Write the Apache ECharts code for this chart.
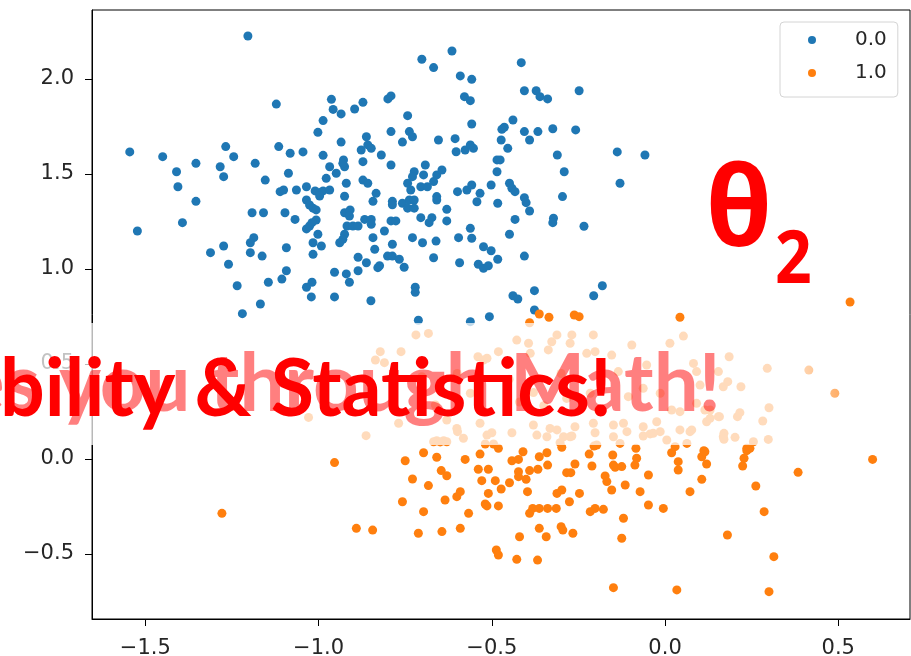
<!DOCTYPE html>
<html>
<head>
<meta charset="utf-8">
<script src="https://cdn.jsdelivr.net/npm/echarts@6/dist/echarts.min.js"></script>
<style>
  html, body { margin: 0; padding: 0; background: #fff; }
  #chart { width: 911px; height: 656px; }
</style>
</head>
<body>
<div id="chart"></div>
<script>
// Class labels shown in the legend
const classNames = ['0.0', '1.0'];

// Tick positions on each axis
const xTickValues = [-1.5, -1.0, -0.5, 0.0, 0.5];
const yTickValues = [-0.5, 0.0, 0.5, 1.0, 1.5, 2.0];

// Class 0.0 samples [x, y]
const class0Points = [
  [-1.204,2.226],[-1.545,1.616],[-1.523,1.2],[-1.45,1.591],[-1.41,1.512],[-1.406,1.433],[-1.393,1.244],[-1.354,1.556],
  [-1.354,1.356],[-1.312,1.086],[-1.284,1.538],[-1.274,1.486],[-1.268,1.644],[-1.245,1.591],[-1.274,1.121],[-1.26,1.025],
  [-1.235,0.912],[-1.22,0.765],[-1.183,1.556],[-1.192,1.296],[-1.159,1.296],[-1.187,1.165],[-1.197,1.138],[-1.197,1.086],
  [-1.163,1.068],[-1.168,0.816],[-1.154,1.468],[-1.145,0.93],[-1.122,1.868],[-1.115,1.644],[-1.111,1.407],[-1.101,1.416],
  [-1.097,1.296],[-1.087,1.504],[-1.082,1.609],[-1.064,1.416],[-1.068,1.261],[-1.093,1.112],[-1.093,0.991],[-1.106,0.947],
  [-1.045,1.616],[-1.035,1.433],[-1.035,1.363],[-1.026,1.337],[-1.016,1.32],[-1.007,1.311],[-1.007,1.258],[-1.01,1.411],
  [-0.995,1.402],[-0.987,1.411],[-0.997,1.384],[-1.035,1.211],[-1.026,1.226],[-1.019,1.244],[-1.002,1.183],[-1.016,1.138],
  [-0.992,1.121],[-1.016,1.077],[-1.035,0.904],[-1.019,0.93],[-1.021,0.853],[-1.002,1.719],[-0.987,1.781],[-0.987,1.598],
  [-0.963,1.893],[-0.958,1.84],[-0.935,1.816],[-0.935,1.668],[-0.968,1.538],[-0.949,1.504],[-0.978,1.477],[-0.968,1.416],
  [-0.928,1.574],[-0.925,1.538],[-0.93,1.556],[-0.92,1.451],[-0.925,1.383],[-0.925,1.296],[-0.909,1.311],[-0.911,1.279],
  [-0.918,1.226],[-0.901,1.226],[-0.886,1.226],[-0.925,1.183],[-0.93,1.156],[-0.939,1.138],[-0.886,1.062],[-0.954,0.983],
  [-0.954,0.853],[-0.92,0.974],[-0.911,0.93],[-0.886,0.991],[-0.872,1.877],[-0.896,1.842],[-0.877,1.626],[-0.872,1.565],
  [-0.862,1.696],[-0.858,1.653],[-0.848,1.635],[-0.872,1.468],[-0.858,1.451],[-0.834,1.398],[-0.843,1.356],[-0.867,1.261],
  [-0.848,1.261],[-0.848,1.235],[-0.843,1.165],[-0.838,1.104],[-0.862,1.033],[-0.829,1.007],[-0.824,1.017],[-0.849,0.833],
  [-0.819,1.6],[-0.81,1.2],[-0.8,1.895],[-0.791,1.911],[-0.791,1.723],[-0.791,1.547],[-0.787,1.356],[-0.787,1.338],
  [-0.791,1.253],[-0.777,1.253],[-0.787,1.13],[-0.801,1.068],[-0.787,1.068],[-0.767,1.051],[-0.753,1.009],[-0.758,1.346],
  [-0.743,1.807],[-0.738,1.723],[-0.729,1.696],[-0.758,1.668],[-0.743,1.451],[-0.724,1.512],[-0.729,1.486],[-0.734,1.416],
  [-0.738,1.363],[-0.724,1.363],[-0.743,1.32],[-0.724,1.32],[-0.692,1.547],[-0.697,1.495],[-0.705,1.433],[-0.686,1.433],
  [-0.668,1.46],[-0.659,1.495],[-0.644,1.521],[-0.705,1.27],[-0.673,1.27],[-0.681,1.244],[-0.729,1.165],[-0.7,1.138],
  [-0.668,1.059],[-0.661,1.147],[-0.659,1.381],[-0.659,1.363],[-0.63,1.314],[-0.63,1.253],[-0.721,0.904],[-0.721,0.877],
  [-0.712,0.73],[-0.702,2.104],[-0.668,2.06],[-0.615,2.147],[-0.654,1.679],[-0.606,1.686],[-0.603,1.617],[-0.599,1.407],
  [-0.596,1.165],[-0.593,1.033],[-0.591,2.016],
  [-0.415,2.086],[-0.558,1.998],[-0.579,1.907],[-0.562,1.886],[-0.558,1.763],[-0.406,1.938],[-0.372,1.938],[-0.361,1.907],
  [-0.339,1.895],[-0.248,1.938],[-0.439,1.784],[-0.464,1.746],[-0.471,1.735],[-0.406,1.723],[-0.391,1.679],[-0.367,1.723],
  [-0.324,1.738],[-0.258,1.732],[-0.473,1.679],[-0.454,1.635],[-0.577,1.626],[-0.562,1.653],[-0.553,1.635],[-0.485,1.574],
  [-0.476,1.574],[-0.485,1.512],[-0.311,1.6],[-0.291,1.512],[-0.138,1.616],[-0.058,1.6],[-0.13,1.451],[-0.572,1.416],
  [-0.558,1.442],[-0.534,1.398],[-0.543,1.354],[-0.502,1.442],[-0.483,1.346],[-0.449,1.451],[-0.442,1.425],[-0.433,1.407],
  [-0.406,1.375],[-0.401,1.349],[-0.391,1.305],[-0.296,1.381],[-0.433,1.261],[-0.322,1.267],[-0.324,1.244],[-0.234,1.225],
  [-0.562,1.214],[-0.558,1.162],[-0.449,1.183],[-0.524,1.117],[-0.502,1.096],[-0.483,1.051],[-0.539,1.025],[-0.524,1.004],
  [-0.51,1.017],[-0.406,1.068],[-0.439,0.859],[-0.425,0.842],[-0.377,0.886],[-0.377,0.784],[-0.507,0.749],[-0.206,0.859],
  [-0.181,0.912],[-0.562,0.723]
];

// Class 1.0 samples [x, y]
const class1Points = [
  [-0.363,0.763],[-0.335,0.746],[-0.262,0.758],[-0.248,0.749],[0.043,0.746],[-0.391,0.717],[0.534,0.826],
  [-0.719,0.653],[-0.683,0.661],[-0.822,0.565],[-0.762,0.565],[-0.836,0.521],[-0.81,0.507],[-0.54,0.538],[-0.514,0.53],
  [-1.029,0.219],[-0.863,0.123],[-0.63,0.205],[-0.601,0.161],[-0.582,0.109],[-0.659,0.096],[-0.639,0.096],[-0.534,0.188],
  [-0.514,0.126],[-0.562,0.346],[-0.769,0.188],[-0.663,0.284],[-0.702,0.433],[-0.668,0.091],[-0.649,0.09],[-0.63,0.091],
  [-0.599,0.144],[-0.519,0.079],[-0.495,0.079],[-0.5,0.138],[-0.442,0.138],[-0.37,0.126],[-0.341,0.117],[-0.303,0.086],
  [-0.269,0.121],[-0.202,0.138],[-0.197,0.074],[-0.149,0.117],[-0.13,0.082],[-0.11,0.144],[-0.063,0.121],[-0.043,0.132],
  [-0.014,0.144],[0.063,0.082],[0.072,0.144],[0.168,0.117],[0.202,0.114],[0.255,0.091],[0.298,0.103],
  [-0.428,0.626],[-0.394,0.609],[-0.312,0.653],[-0.327,0.617],[-0.269,0.653],[-0.274,0.609],[-0.207,0.653],[-0.096,0.6],
  [0.014,0.609],[0.053,0.647],[-0.481,0.565],[-0.389,0.556],[-0.337,0.574],[-0.226,0.556],[-0.202,0.565],[-0.154,0.547],
  [-0.524,0.521],[0.082,0.503],[0.091,0.46],[-0.053,0.495],[-0.135,0.46],[0.154,0.46],[0.168,0.38],[-0.063,0.372],
  [-0.106,0.328],[-0.014,0.346],[0.101,0.389],[0.13,0.258],[0.154,0.223],[-0.534,0.258],[-0.38,0.179],[-0.332,0.161],
  [-0.312,0.153],[-0.26,0.17],[-0.207,0.188],[-0.149,0.179],[-0.12,0.188],[-0.063,0.17],[-0.024,0.196],[-0.034,0.135],
  [0.043,0.153],[0.077,0.153],[0.12,0.196],[-0.293,0.117],[-0.274,0.117],[0.005,0.1],[-0.284,0.319],[-0.216,0.346],
  [-0.192,0.258],[0.019,0.258],[0.043,0.249],[0.091,0.293],
  [0.185,0.538],[0.295,0.477],[0.415,0.468],[0.49,0.346],[0.181,0.407],[0.219,0.38],[0.3,0.27],[0.216,0.244],
  [0.209,0.223],[0.282,0.2],[0.13,0.214],[0.157,0.223],[0.115,0.258],[0.17,0.135],[0.17,0.104],
  [-0.45,0.42],[-0.38,0.35],[-0.3,0.45],[-0.42,0.3],[-0.6,0.45],[-0.35,0.28],
  [0.236,0.056],[0.112,0.044],
  [-1.279,-0.286],[-0.954,-0.019],[-0.891,-0.365],[-0.844,-0.374],[-0.758,-0.225],[-0.75,-0.009],[-0.729,-0.105],[-0.697,0.033],
  [-0.683,-0.14],[-0.697,-0.277],[-0.712,-0.391],[-0.659,0.009],[-0.646,-0.061],[-0.63,-0.088],[-0.635,-0.216],[-0.644,-0.382],
  [-0.601,-0.198],[-0.591,-0.365],[-0.591,-0.172],[-0.577,-0.002],[-0.567,-0.286],[-0.534,0.026],[-0.539,-0.054],[-0.51,-0.054],
  [-0.529,-0.114],[-0.49,-0.114],[-0.473,-0.158],[-0.51,-0.181],[-0.519,-0.237],[-0.514,-0.247],[-0.481,-0.247],[-0.487,-0.479],
  [-0.481,-0.505],[-0.428,-0.528],[-0.42,-0.409],[-0.481,0.056],[-0.442,-0.009],[-0.423,-0.002],[-0.41,0.038],[-0.423,-0.067],
  [-0.423,-0.093],[-0.449,-0.125],[-0.401,-0.107],[-0.391,-0.061],[-0.367,-0.054],[-0.397,-0.172],[-0.363,0.012],[-0.341,0.033],
  [-0.339,-0.032],[-0.391,-0.286],[-0.382,-0.26],[-0.363,-0.26],[-0.339,-0.26],[-0.314,-0.26],[-0.363,-0.365],[-0.343,-0.409],
  [-0.368,-0.532],[-0.3,-0.356],[-0.295,-0.374],[-0.266,-0.391],[-0.312,-0.181],[-0.298,-0.163],[-0.276,-0.225],[-0.247,-0.181],
  [-0.284,-0.072],[-0.272,-0.072],[-0.26,-0.026],[-0.298,0.062],[-0.219,0.026],[-0.211,-0.037],[-0.205,0.068],[-0.216,-0.277],
  [-0.202,-0.26],[-0.178,-0.265],[-0.173,-0.089],[-0.168,-0.119],[-0.154,-0.163],[-0.151,0.021],[-0.149,-0.032],[-0.144,-0.044],
  [-0.125,-0.04],[-0.12,-0.312],[-0.125,-0.417],[-0.149,-0.677],[-0.115,-0.137],[-0.087,-0.032],[-0.082,0.004],[-0.084,0.056],
  [-0.072,-0.172],[-0.048,-0.084],[-0.048,-0.242],[-0.005,-0.26],[0.019,0.033],[0.029,0.065],[0.038,-0.014],[0.038,-0.058],
  [0.072,-0.172],[0.034,-0.689],[0.106,0.012],[0.115,0.038],[0.12,-0.026],[0.106,-0.107],[0.224,-0.037],[0.228,0.004],
  [0.236,0.044],[0.245,0.056],[0.262,-0.142],[0.286,-0.277],[0.18,-0.4],[0.314,-0.514],[0.3,-0.698],[0.384,-0.07],
  [0.599,-0.002]
];

// Title overlay strings
const headlineText = 'Probability & Statistics!';
const headlineVisible = 'bility & Statistics!';
const fadingText = 'Guides you through Math!';
const fadingVisible = 'you through Math!';
const symbolText = 'θ';
const subscriptText = '2';

// Horizontal squeeze so the bold overlay text keeps its condensed look
function fitScale(font, str, targetWidth) {
  const ctx = document.createElement('canvas').getContext('2d');
  ctx.font = font;
  return targetWidth / ctx.measureText(str).width;
}

const headFont = 'bold 81px Lato';
const headScale = fitScale(headFont, headlineVisible, 612);
const fadeScale = fitScale(headFont, fadingVisible, 662);

const fmt = v => (v < 0 ? '\u2212' : '') + Math.abs(v).toFixed(1);
const axisFont = { fontFamily: 'DejaVu Sans', fontSize: 21, color: '#262626' };

const chart = echarts.init(document.getElementById('chart'), null, { renderer: 'canvas' });
chart.setOption({
  animation: false,
  backgroundColor: '#fff',
  grid: {
    left: 92, right: 1, top: 10, bottom: 37,
    containLabel: false, outerBoundsMode: 'none',
    show: true, borderColor: '#000', borderWidth: 1, backgroundColor: 'transparent'
  },
  xAxis: {
    type: 'value', min: -1.654, max: 0.707,
    axisLine: { show: true, onZero: false, lineStyle: { color: '#000', width: 1 } },
    axisTick: { show: true, length: 7, customValues: xTickValues, lineStyle: { color: '#000' } },
    axisLabel: Object.assign({ customValues: xTickValues, formatter: fmt, margin: 19 }, axisFont),
    splitLine: { show: false }
  },
  yAxis: {
    type: 'value', min: -0.842, max: 2.363,
    axisLine: { show: true, onZero: false, lineStyle: { color: '#000', width: 1 } },
    axisTick: { show: true, length: 7, customValues: yTickValues, lineStyle: { color: '#000' } },
    axisLabel: Object.assign({ customValues: yTickValues, formatter: fmt, margin: 18 }, axisFont),
    splitLine: { show: false }
  },
  legend: {
    data: classNames,
    orient: 'vertical',
    left: 780, top: 22,
    icon: 'circle', itemWidth: 8, itemHeight: 8, itemGap: 13,
    padding: [8, 11, 14, 28],
    backgroundColor: 'rgba(255,255,255,0.8)',
    borderColor: '#d4d4d4', borderWidth: 1, borderRadius: 4,
    textStyle: { fontFamily: 'DejaVu Sans', fontSize: 20, lineHeight: 20, color: '#262626', padding: [0, 0, 0, 34] },
    selectedMode: false
  },
  series: [
    { name: classNames[0], type: 'scatter', data: class0Points, symbolSize: 9, itemStyle: { color: '#1f77b4', opacity: 1 }, z: 2 },
    { name: classNames[1], type: 'scatter', data: class1Points, symbolSize: 9, itemStyle: { color: '#ff7f0e', opacity: 1 }, z: 3 }
  ],
  graphic: [
    {
      type: 'rect', z: 100,
      shape: { x: 0, y: 323, width: 911, height: 122 },
      style: {
        fill: {
          type: 'linear', x: 0, y: 0, x2: 1, y2: 0,
          colorStops: [
            { offset: 0, color: 'rgba(255,255,255,0.72)' },
            { offset: 0.875, color: 'rgba(255,255,255,0.72)' },
            { offset: 0.97, color: 'rgba(255,255,255,0)' },
            { offset: 1, color: 'rgba(255,255,255,0)' }
          ]
        }
      }
    },
    {
      type: 'text', z: 101, x: 721, y: 385, scaleX: fadeScale,
      style: { text: fadingText, font: headFont, fill: 'rgba(255,0,0,0.5)', textAlign: 'right', textVerticalAlign: 'middle' }
    },
    {
      type: 'text', z: 102, x: 612, y: 390, scaleX: headScale,
      style: { text: headlineText, font: headFont, fill: '#ff0000', textAlign: 'right', textVerticalAlign: 'middle' }
    },
    {
      type: 'text', z: 102, x: 706, y: 214, scaleX: 0.95,
      style: { text: symbolText, font: 'bold 112px "Open Sans"', fill: '#ff0000', textAlign: 'left', textVerticalAlign: 'middle' }
    },
    {
      type: 'text', z: 102, x: 775, y: 262, scaleX: 0.88,
      style: { text: subscriptText, font: 'bold 73px "Open Sans"', fill: '#ff0000', textAlign: 'left', textVerticalAlign: 'middle' }
    }
  ]
});
</script>
</body>
</html>
